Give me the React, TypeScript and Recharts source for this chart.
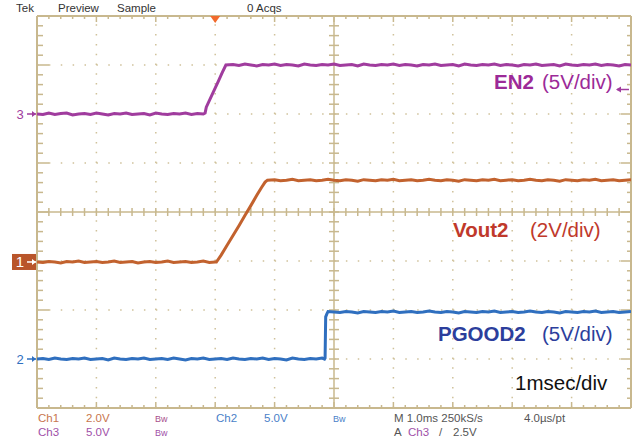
import React from 'react';
import { LineChart, Line, XAxis, YAxis, ReferenceLine, ReferenceDot, Customized } from 'recharts';

// time in ms (1 ms/div, 10 divisions), level in screen divisions (0 = bottom, 8 = top)
const en2Trace: [number, number][] = [
  [0, 6.0], [0.1, 5.99], [0.2, 6.02], [0.3, 5.99], [0.4, 6.01], [0.5, 6.02], [0.6, 5.98], [0.7, 6.0],
  [0.8, 6.01], [0.9, 5.99], [1.0, 6.02], [1.1, 6.0], [1.2, 5.98], [1.3, 6.01], [1.4, 6.0], [1.5, 6.02],
  [1.6, 5.99], [1.7, 6.0], [1.8, 6.01], [1.9, 5.98], [2.0, 6.02], [2.1, 6.0], [2.2, 5.99], [2.3, 6.01],
  [2.4, 6.0], [2.5, 6.02], [2.6, 5.99], [2.7, 6.01], [2.8, 6.0], [2.83, 6.02], [2.85, 6.14], [2.95, 6.4],
  [3.05, 6.66], [3.12, 6.85], [3.18, 7.0], [3.3, 7.01], [3.4, 6.99], [3.5, 7.02], [3.6, 7.0], [3.7, 6.98],
  [3.8, 7.01], [3.9, 7.0], [4.0, 7.02], [4.1, 6.99], [4.2, 7.01], [4.3, 7.0], [4.4, 6.98], [4.5, 7.02],
  [4.6, 7.0], [4.7, 6.99], [4.8, 7.01], [4.9, 7.0], [5.0, 7.02], [5.1, 6.99], [5.2, 7.0], [5.3, 7.01],
  [5.4, 6.98], [5.5, 7.02], [5.6, 7.0], [5.7, 6.99], [5.8, 7.01], [5.9, 7.0], [6.0, 7.02], [6.1, 6.99],
  [6.2, 7.01], [6.3, 7.0], [6.4, 6.98], [6.5, 7.01], [6.6, 7.0], [6.7, 7.02], [6.8, 6.99], [6.9, 7.0],
  [7.0, 7.01], [7.1, 6.98], [7.2, 7.02], [7.3, 7.0], [7.4, 6.99], [7.5, 7.01], [7.6, 7.0], [7.7, 7.02],
  [7.8, 6.99], [7.9, 7.01], [8.0, 7.0], [8.1, 6.98], [8.2, 7.01], [8.3, 7.0], [8.4, 7.02], [8.5, 6.99],
  [8.6, 7.0], [8.7, 7.01], [8.8, 6.98], [8.9, 7.02], [9.0, 7.0], [9.1, 6.99], [9.2, 7.01], [9.3, 7.0],
  [9.4, 7.02], [9.5, 6.99], [9.6, 7.01], [9.7, 7.0], [9.8, 6.98], [9.9, 7.01], [10, 7.0],
];

const vout2Trace: [number, number][] = [
  [0, 2.98], [0.1, 2.97], [0.2, 2.99], [0.3, 2.98], [0.4, 2.96], [0.5, 2.99], [0.6, 2.98], [0.7, 3.0],
  [0.8, 2.97], [0.9, 2.98], [1.0, 2.99], [1.1, 2.97], [1.2, 2.98], [1.3, 3.0], [1.4, 2.97], [1.5, 2.98],
  [1.6, 2.99], [1.7, 2.96], [1.8, 2.98], [1.9, 2.99], [2.0, 2.97], [2.1, 2.98], [2.2, 3.0], [2.3, 2.97],
  [2.4, 2.98], [2.5, 2.99], [2.6, 2.97], [2.7, 2.98], [2.8, 3.0], [2.9, 2.97], [3.0, 2.98], [3.02, 2.98],
  [3.1, 3.12], [3.2, 3.32], [3.3, 3.52], [3.4, 3.72], [3.5, 3.93], [3.6, 4.13], [3.7, 4.34], [3.78, 4.5],
  [3.84, 4.61], [3.88, 4.65], [4.0, 4.66], [4.1, 4.64], [4.2, 4.65], [4.3, 4.67], [4.4, 4.64], [4.5, 4.65],
  [4.6, 4.66], [4.7, 4.64], [4.8, 4.65], [4.9, 4.67], [5.0, 4.65], [5.1, 4.64], [5.2, 4.66], [5.3, 4.65],
  [5.4, 4.63], [5.5, 4.66], [5.6, 4.65], [5.7, 4.64], [5.8, 4.66], [5.9, 4.65], [6.0, 4.67], [6.1, 4.64],
  [6.2, 4.65], [6.3, 4.66], [6.4, 4.64], [6.5, 4.65], [6.6, 4.67], [6.7, 4.65], [6.8, 4.64], [6.9, 4.66],
  [7.0, 4.65], [7.1, 4.63], [7.2, 4.66], [7.3, 4.65], [7.4, 4.64], [7.5, 4.66], [7.6, 4.65], [7.7, 4.67],
  [7.8, 4.64], [7.9, 4.65], [8.0, 4.66], [8.1, 4.64], [8.2, 4.65], [8.3, 4.67], [8.4, 4.65], [8.5, 4.64],
  [8.6, 4.66], [8.7, 4.65], [8.8, 4.63], [8.9, 4.66], [9.0, 4.65], [9.1, 4.64], [9.2, 4.66], [9.3, 4.65],
  [9.4, 4.67], [9.5, 4.64], [9.6, 4.65], [9.7, 4.66], [9.8, 4.64], [9.9, 4.65], [10, 4.66],
];

const pgood2Trace: [number, number][] = [
  [0, 1.0], [0.1, 1.01], [0.2, 0.99], [0.3, 1.02], [0.4, 1.0], [0.5, 0.99], [0.6, 1.01], [0.7, 1.0],
  [0.8, 1.02], [0.9, 0.99], [1.0, 1.0], [1.1, 1.01], [1.2, 0.98], [1.3, 1.02], [1.4, 1.0], [1.5, 0.99],
  [1.6, 1.01], [1.7, 1.0], [1.8, 1.02], [1.9, 0.99], [2.0, 1.0], [2.1, 1.01], [2.2, 0.99], [2.3, 1.02],
  [2.4, 1.0], [2.5, 0.98], [2.6, 1.01], [2.7, 1.0], [2.8, 1.02], [2.9, 0.99], [3.0, 1.0], [3.1, 1.01],
  [3.2, 0.99], [3.3, 1.02], [3.4, 1.0], [3.5, 0.99], [3.6, 1.01], [3.7, 1.0], [3.8, 1.02], [3.9, 0.99],
  [4.0, 1.01], [4.1, 1.0], [4.2, 0.98], [4.3, 1.02], [4.4, 1.0], [4.5, 0.99], [4.6, 1.01], [4.7, 1.0],
  [4.8, 1.02], [4.84, 1.0], [4.85, 1.02], [4.86, 1.86], [4.88, 1.92], [4.9, 1.97], [5.0, 1.96], [5.1, 1.95],
  [5.2, 1.97], [5.3, 1.96], [5.4, 1.94], [5.5, 1.97], [5.6, 1.96], [5.7, 1.95], [5.8, 1.97], [5.9, 1.96],
  [6.0, 1.98], [6.1, 1.95], [6.2, 1.96], [6.3, 1.97], [6.4, 1.95], [6.5, 1.96], [6.6, 1.98], [6.7, 1.96],
  [6.8, 1.95], [6.9, 1.97], [7.0, 1.96], [7.1, 1.94], [7.2, 1.97], [7.3, 1.96], [7.4, 1.95], [7.5, 1.97],
  [7.6, 1.96], [7.7, 1.98], [7.8, 1.95], [7.9, 1.96], [8.0, 1.97], [8.1, 1.95], [8.2, 1.96], [8.3, 1.98],
  [8.4, 1.96], [8.5, 1.95], [8.6, 1.97], [8.7, 1.96], [8.8, 1.94], [8.9, 1.97], [9.0, 1.96], [9.1, 1.95],
  [9.2, 1.97], [9.3, 1.96], [9.4, 1.98], [9.5, 1.95], [9.6, 1.96], [9.7, 1.97], [9.8, 1.95], [9.9, 1.96],
  [10, 1.97],
];

// channel ground markers (divisions), trigger time (ms) and trigger level (divisions)
const ch3Ground = 6.0;
const ch1Ground = 2.98;
const ch2Ground = 1.0;
const triggerTime = 3.0;
const triggerLevel = 6.5;

// graticule
const gridX = [1, 2, 3, 4, 6, 7, 8, 9];
const gridY = [1, 2, 3, 5, 6, 7];
const tickX = Array.from({ length: 49 }, (_, i) => Math.round((i + 1) * 2) / 10);
const tickY = Array.from({ length: 39 }, (_, i) => Math.round((i + 1) * 2) / 10);

const toData = (arr: [number, number][]) => arr.map(([t, v]) => ({ t, v }));

const W = 636;
const H = 437;
const M = { top: 16, right: 5, bottom: 29, left: 37 };
const PX_X = 10 / (W - M.left - M.right);
const PX_Y = 8 / (H - M.top - M.bottom);

const TAN = '#c8b88e';
const DOT = '#cfc19a';
const PURPLE = '#a03c9e';
const ORANGE = '#c2622e';
const BLUE = '#2f6fbf';
const FONT = '"Liberation Sans", Arial, sans-serif';

const isMajor = (v: number) => Math.abs(v - Math.round(v)) < 1e-6;

const Annotations = () => (
  <g fontFamily={FONT}>
    <g fontSize={11.5} fill="#333">
      <text x={16} y={12}>Tek</text>
      <text x={58} y={12}>Preview</text>
      <text x={117} y={12}>Sample</text>
      <text x={247} y={12}>0 Acqs</text>
    </g>
    <g fontSize={11.5}>
      <text x={38} y={422} fill="#c8764e">Ch1</text>
      <text x={86} y={422} fill="#c8764e">2.0V</text>
      <text x={155} y={422} fill="#a8508c" fontSize={9}>Bw</text>
      <text x={216} y={422} fill="#4a7fc8">Ch2</text>
      <text x={264} y={422} fill="#4a7fc8">5.0V</text>
      <text x={333} y={422} fill="#4a7fc8" fontSize={9}>Bw</text>
      <text x={394} y={422} fill="#555">M 1.0ms 250kS/s</text>
      <text x={524} y={422} fill="#555">4.0µs/pt</text>
      <text x={38} y={436} fill="#a050a8">Ch3</text>
      <text x={86} y={436} fill="#a050a8">5.0V</text>
      <text x={155} y={436} fill="#a050a8" fontSize={9}>Bw</text>
      <text x={394} y={436} fill="#555">A</text>
      <text x={408} y={436} fill="#a050a8">Ch3</text>
      <text x={439} y={436} fill="#555">/</text>
      <text x={453} y={436} fill="#555">2.5V</text>
    </g>
    <g fontSize={20.5}>
      <text x={494} y={89} fill="#9c2a98" fontWeight="bold">EN2</text>
      <text x={542} y={89} fill="#9c2a98">(5V/div)</text>
      <text x={453} y={237} fill="#c0392b" fontWeight="bold">Vout2</text>
      <text x={530} y={237} fill="#c0392b">(2V/div)</text>
      <text x={438} y={341} fill="#2c3e9c" fontWeight="bold">PGOOD2</text>
      <text x={542} y={341} fill="#2c3e9c">(5V/div)</text>
      <text x={515} y={390} fill="#111">1msec/div</text>
    </g>
  </g>
);

const markerShape = (label: string, color: string, boxed: boolean) => (props: any) => {
  const { cx, cy } = props;
  return (
    <g fontFamily={FONT}>
      {boxed && <rect x={cx - 25} y={cy - 8} width={24} height={16} fill={color} />}
      <text x={cx - 17} y={cy + 5} fontSize={boxed ? 15 : 13} fill={boxed ? '#fff' : color} textAnchor="middle">{label}</text>
      <line x1={cx - 10} y1={cy} x2={cx - 1} y2={cy} stroke={boxed ? '#fff' : color} strokeWidth={1.5} />
      <path d={`M${cx - 1},${cy} L${cx - 5},${cy - 3} L${cx - 5},${cy + 3} Z`} fill={boxed ? '#fff' : color} />
    </g>
  );
};

const triggerShape = (props: any) => {
  const { cx, cy } = props;
  return <path d={`M${cx - 5},${cy} L${cx + 5},${cy} L${cx},${cy + 7} Z`} fill="#f26a2c" />;
};

const levelShape = (props: any) => {
  const { cx, cy } = props;
  return (
    <g>
      <line x1={cx - 14} y1={cy} x2={cx - 2} y2={cy} stroke={PURPLE} strokeWidth={1.5} />
      <path d={`M${cx - 15},${cy} L${cx - 10},${cy - 3} L${cx - 10},${cy + 3} Z`} fill={PURPLE} />
    </g>
  );
};

export default function App() {
  return (
    <div style={{ position: 'absolute', left: 0, top: 0, width: W, height: H, background: '#fff' }}>
      <LineChart width={W} height={H} margin={M}>
        <XAxis type="number" dataKey="t" domain={[0, 10]} hide allowDataOverflow />
        <YAxis type="number" dataKey="v" domain={[0, 8]} hide allowDataOverflow />

        {gridX.map((x) => (
          <ReferenceLine key={`gx${x}`} x={x} stroke={DOT} strokeWidth={1.5} strokeDasharray="1.5 8.3" />
        ))}
        {gridY.map((y) => (
          <ReferenceLine key={`gy${y}`} y={y} stroke={DOT} strokeWidth={1.5} strokeDasharray="1.5 10.38" />
        ))}

        <ReferenceLine x={5} stroke={TAN} strokeWidth={1.5} />
        <ReferenceLine y={4} stroke={TAN} strokeWidth={1.5} />

        {tickX.map((x) => (
          <ReferenceLine key={`tt${x}`} segment={[{ x, y: 8 }, { x, y: 8 - (isMajor(x) ? 6 : 3) * PX_Y }]} stroke={TAN} strokeWidth={1.5} />
        ))}
        {tickX.map((x) => (
          <ReferenceLine key={`tb${x}`} segment={[{ x, y: 0 }, { x, y: (isMajor(x) ? 6 : 3) * PX_Y }]} stroke={TAN} strokeWidth={1.5} />
        ))}
        {tickX.map((x) => (
          <ReferenceLine key={`tc${x}`} segment={[{ x, y: 4 - 4 * PX_Y }, { x, y: 4 + 4 * PX_Y }]} stroke={TAN} strokeWidth={1.5} />
        ))}
        {tickY.map((y) => (
          <ReferenceLine key={`tl${y}`} segment={[{ x: 0, y }, { x: (isMajor(y) ? 12 : 6) * PX_X, y }]} stroke={TAN} strokeWidth={1.5} />
        ))}
        {tickY.map((y) => (
          <ReferenceLine key={`tr${y}`} segment={[{ x: 10, y }, { x: 10 - (isMajor(y) ? 10 : 4) * PX_X, y }]} stroke={TAN} strokeWidth={1.5} />
        ))}
        {tickY.map((y) => (
          <ReferenceLine key={`tm${y}`} segment={[{ x: 5 - 5 * PX_X, y }, { x: 5 + 5 * PX_X, y }]} stroke={TAN} strokeWidth={1.5} />
        ))}

        <ReferenceLine x={0} stroke={TAN} strokeWidth={2} />
        <ReferenceLine x={10} stroke={TAN} strokeWidth={2} />
        <ReferenceLine y={0} stroke={TAN} strokeWidth={2} />
        <ReferenceLine y={8} stroke={TAN} strokeWidth={2} />

        <Line data={toData(en2Trace)} dataKey="v" type="linear" stroke={PURPLE} strokeWidth={3} dot={false} isAnimationActive={false} />
        <Line data={toData(vout2Trace)} dataKey="v" type="linear" stroke={ORANGE} strokeWidth={3} dot={false} isAnimationActive={false} />
        <Line data={toData(pgood2Trace)} dataKey="v" type="linear" stroke={BLUE} strokeWidth={3} dot={false} isAnimationActive={false} />

        <ReferenceDot x={0} y={ch3Ground} r={0} shape={markerShape('3', PURPLE, false)} />
        <ReferenceDot x={0} y={ch1Ground} r={0} shape={markerShape('1', '#b9552a', true)} />
        <ReferenceDot x={0} y={ch2Ground} r={0} shape={markerShape('2', BLUE, false)} />
        <ReferenceDot x={triggerTime} y={8} r={0} shape={triggerShape} />
        <ReferenceDot x={10} y={triggerLevel} r={0} shape={levelShape} />

        <Customized component={Annotations} />
      </LineChart>
    </div>
  );
}
